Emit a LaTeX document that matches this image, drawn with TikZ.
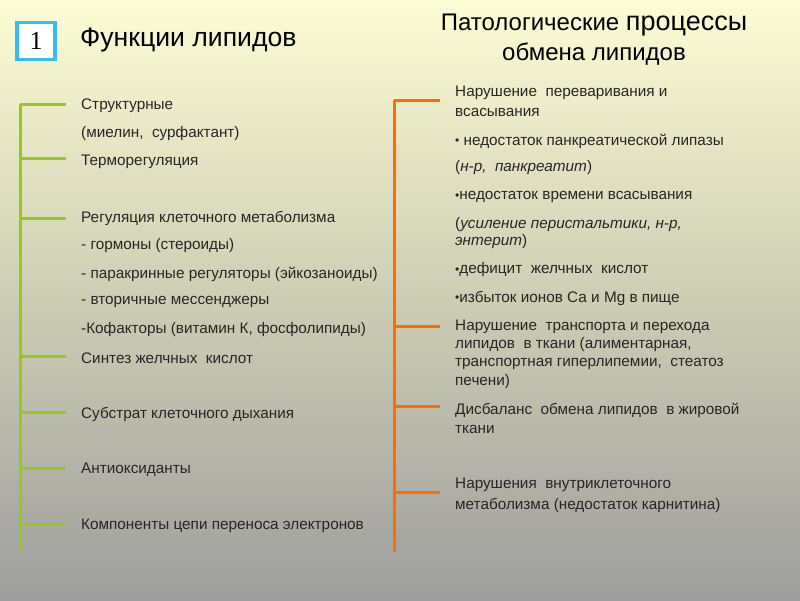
\documentclass[tikz,border=0pt]{standalone}
\usepackage{fontspec}
\setmainfont{Liberation Sans}
\newfontfamily\serifnum{Liberation Serif}
\newcommand{\bul}{{\fontsize{12}{12}\selectfont\raisebox{0.5pt}{•}}}
\begin{document}
\begin{tikzpicture}[x=1pt,y=-1pt,
  txt/.style={anchor=west,inner sep=0pt,font=\fontsize{15.3}{16}\selectfont,text=black!85},
  gline/.style={line width=3pt},
  oline/.style={draw=orange!85!red,line width=3pt}]
\useasboundingbox (0,0) rectangle (800,600);
\definecolor{bgtop}{RGB}{252,252,212}
\definecolor{bgmid}{RGB}{205,205,180}
\definecolor{bgbot}{RGB}{158,158,158}
\shade[top color=bgtop, bottom color=bgbot, middle color=bgmid] (0,0) rectangle (800,600);
\definecolor{lg}{RGB}{150,200,30}
% box
\node[draw=cyan!80,line width=3.5pt,fill=white,minimum width=38pt,minimum height=37pt,inner sep=0pt,font=\serifnum\fontsize{26}{26}\selectfont] (box) at (36,41) {1};
\node[anchor=west,inner sep=0pt,font=\fontsize{26.6}{28}\selectfont] (t1) at (80,40) {Функции липидов};
\node[align=center,inner sep=0pt,font=\fontsize{24}{30}\selectfont] (t2) at (594,40) {Патологические \fontsize{27}{30}\selectfont процессы\\ \fontsize{24}{30}\selectfont обмена липидов};
% left tree
\coordinate (lt) at (20,104); \coordinate (lb) at (20,552);
\draw[gline,draw=lg] (lt) -- (lb);
\foreach \y/\n in {104/a,158/b,218/c,356/d,412/e,468/f,524/g}{
  \coordinate (l\n) at (20,\y); \coordinate (le\n) at (66,\y);
  \draw[gline,draw=lg] (l\n) -- (le\n);}
\node[txt] (s1) at (81,106) {Структурные};
\node[txt] (s2) at (81,134) {(миелин,\ \ сурфактант)};
\node[txt] (s3) at (81,162) {Терморегуляция};
\node[txt] (s4) at (81,218) {Регуляция клеточного метаболизма};
\node[txt] (s5) at (81,246) {- гормоны (стероиды)};
\node[txt] (s6) at (81,274) {- паракринные регуляторы (эйкозаноиды)};
\node[txt] (s7) at (81,302) {- вторичные мессенджеры};
\node[txt] (s8) at (81,330) {-Кофакторы (витамин К, фосфолипиды)};
\node[txt] (s9) at (81,358) {Синтез желчных\ \ кислот};
\node[txt] (s10) at (81,414) {Субстрат клеточного дыхания};
\node[txt] (s11) at (81,470) {Антиоксиданты};
\node[txt] (s12) at (81,526) {Компоненты цепи переноса электронов};
% right tree
\coordinate (rt) at (394,100); \coordinate (rb) at (394,552);
\draw[oline] (rt) -- (rb);
\foreach \y/\n in {100/a,326/b,406/c,492/d}{
  \coordinate (r\n) at (394,\y); \coordinate (re\n) at (440,\y);
  \draw[oline] (r\n) -- (re\n);}
\node[txt] (p1) at (455,93) {Нарушение\ \ переваривания и};
\node[txt] (p1b) at (455,112) {всасывания};
\node[txt] (p2) at (455,141) {\bul\ недостаток панкреатической липазы};
\node[txt] (p3) at (455,168) {(\textit{н-р,\ \ панкреатит})};
\node[txt] (p4) at (455,197) {\bul недостаток времени всасывания};
\node[txt] (p5) at (455,225) {(\textit{усиление перистальтики, н-р,}};
\node[txt] (p5b) at (455,242) {\textit{энтерит})};
\node[txt] (p6) at (455,270) {\bul дефицит\ \ желчных\ \ кислот};
\node[txt] (p7) at (455,298) {\bul избыток ионов Са и Mg в пище};
\node[txt] (p8) at (455,327) {Нарушение\ \ транспорта и перехода};
\node[txt] (p8b) at (455,345) {липидов\ \ в ткани (алиментарная,};
\node[txt] (p8c) at (455,364) {транспортная гиперлипемии,\ \ стеатоз};
\node[txt] (p8d) at (455,382) {печени)};
\node[txt] (p9) at (455,410) {Дисбаланс\ \ обмена липидов\ \ в жировой};
\node[txt] (p9b) at (455,429) {ткани};
\node[txt] (p10) at (455,485) {Нарушения\ \ внутриклеточного};
\node[txt] (p10b) at (455,505) {метаболизма (недостаток карнитина)};
\end{tikzpicture}
\end{document}
